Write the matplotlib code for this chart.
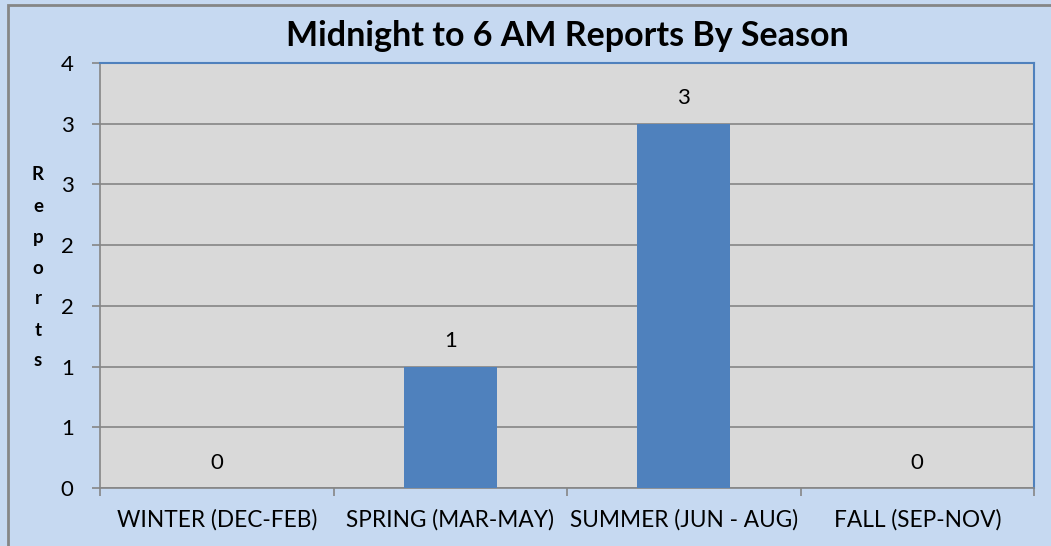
import matplotlib.pyplot as plt
from matplotlib.ticker import FuncFormatter, MultipleLocator
from matplotlib.patches import Rectangle
import math

seasons = ["WINTER (DEC-FEB)", "SPRING (MAR-MAY)", "SUMMER (JUN - AUG)", "FALL (SEP-NOV)"]
reports = [0, 1, 3, 0]

plt.rcParams['font.family'] = ['Lato', 'DejaVu Sans']

fig = plt.figure(figsize=(10.51, 5.46), dpi=100, facecolor='#C6D9F1')
# outer chart border (left and top only visible)
fig.add_artist(Rectangle((8 / 1051, -0.05), 1.2, 1 - 5 / 546 + 0.05, transform=fig.transFigure,
                         fill=False, edgecolor='#868686', linewidth=2))

ax = fig.add_axes([100 / 1051, 58 / 546, 934 / 1051, 425 / 546])
ax.set_facecolor('#D9D9D9')

x = list(range(len(seasons)))
ax.bar(x, reports, width=0.4, color='#4F81BD', zorder=3)
for xi, v in zip(x, reports):
    ax.annotate(str(v), (xi, v), xytext=(0, 11), textcoords='offset points',
                ha='center', va='bottom', fontsize=16)

ax.set_xlim(-0.5, len(seasons) - 0.5)
ax.set_ylim(0, 3.5)
ax.yaxis.set_major_locator(MultipleLocator(0.5))
ax.yaxis.set_major_formatter(FuncFormatter(lambda v, p: str(int(math.floor(v + 0.5)))))
ax.grid(axis='y', color='#868686', linewidth=1.2, zorder=0)

ax.set_xticks([i - 0.5 for i in range(len(seasons) + 1)])
ax.set_xticklabels([])
ax.set_xticks(x, minor=True)
ax.set_xticklabels(seasons, minor=True, fontsize=16.3)
ax.tick_params(axis='x', which='minor', length=0, pad=15)
ax.tick_params(axis='x', which='major', length=6, color='#868686', width=1.2)
ax.tick_params(axis='y', length=6, color='#868686', width=1.2, labelsize=16, pad=13)

for s in ['left', 'bottom']:
    ax.spines[s].set_color('#868686')
    ax.spines[s].set_linewidth(1.2)
for s in ['top', 'right']:
    ax.spines[s].set_color('#4F81BD')
    ax.spines[s].set_linewidth(1.5)

ax.set_title("Midnight to 6 AM Reports By Season", fontsize=24.5, fontweight='bold', pad=12)
fig.text(38 / 1051, 1 - 268 / 546, "\n".join("Reports"), ha='center', va='center',
         fontsize=13.5, fontweight='bold', linespacing=2.0)

fig.savefig('out.png', dpi=100, facecolor=fig.get_facecolor())
